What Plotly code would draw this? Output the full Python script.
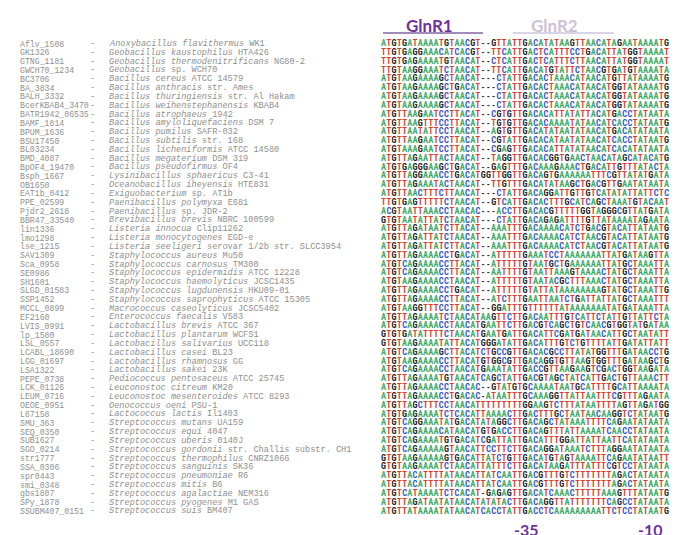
import plotly.graph_objects as go

# ---------------- data ----------------
genes = ["Aflv_1508", "GK1326", "GTNG_1181", "GWCH70_1234", "BC3706", "BA_3834", "BALH_3332",
         "BcerKBAB4_3470", "BATR1942_06535", "BAMF_1814", "BPUM_1636", "BSU17450", "BL03234",
         "BMD_4087", "BpOF4_19470", "Bsph_1667", "OB1650", "EAT1b_0412", "PPE_02599", "Pjdr2_2618",
         "BBR47_33540", "lin1336", "lmo1298", "lse_1215", "SAV1309", "Sca_0958", "SE0986", "SH1601",
         "SLGD_01583", "SSP1452", "MCCL_0899", "EF2160", "LVIS_0991", "lp_1580", "LSL_0557",
         "LCABL_18690", "LGG_01697", "LSA1322", "PEPE_0738", "LCK_01126", "LEUM_0716", "OEOE_0951",
         "L67158", "SMU_363", "SEQ_0350", "SUB1627", "SGO_0214", "str1777", "SSA_0306", "spr0443",
         "smi_0348", "gbs1807", "SPy_1878", "SSUBM407_0151"]

species = ["Anoxybacillus flavithermus", "Geobacillus kaustophilus", "Geobacillus thermodenitrificans",
           "Geobacillus", "Bacillus cereus", "Bacillus anthracis", "Bacillus thuringiensis",
           "Bacillus weihenstephanensis", "Bacillus atrophaeus", "Bacillus amyloliquefaciens",
           "Bacillus pumilus", "Bacillus subtilis", "Bacillus licheniformis", "Bacillus megaterium",
           "Bacillus pseudofirmus", "Lysinibacillus sphaericus", "Oceanobacillus iheyensis",
           "Exiguobacterium", "Paenibacillus polymyxa", "Paenibacillus", "Brevibacillus brevis",
           "Listeria innocua", "Listeria monocytogenes", "Listeria seeligeri", "Staphylococcus aureus",
           "Staphylococcus carnosus", "Staphylococcus epidermidis", "Staphylococcus haemolyticus",
           "Staphylococcus lugdunensis", "Staphylococcus saprophyticus", "Macrococcus caseolyticus",
           "Enterococcus faecalis", "Lactobacillus brevis", "Lactobacillus plantarum",
           "Lactobacillus salivarius", "Lactobacillus casei", "Lactobacillus rhamnosus",
           "Lactobacillus sakei", "Pediococcus pentosaceus", "Leuconostoc citreum",
           "Leuconostoc mesenteroides", "Oenococcus oeni", "Lactococcus lactis", "Streptococcus mutans",
           "Streptococcus equi", "Streptococcus uberis", "Streptococcus gordonii",
           "Streptococcus thermophilus", "Streptococcus sanguinis", "Streptococcus pneumoniae",
           "Streptococcus mitis", "Streptococcus agalactiae", "Streptococcus pyogenes",
           "Streptococcus suis"]

strains = ["WK1", "HTA426", "NG80-2", "sp. WCH70", "ATCC 14579", "str. Ames", "str. Al Hakam", "KBAB4",
           "1942", "DSM 7", "SAFR-032", "str. 168", "ATCC 14580", "DSM 319", "OF4", "C3-41", "HTE831",
           "sp. AT1b", "E681", "sp. JDR-2", "NBRC 100599", "Clip11262", "EGD-e",
           "serovar 1/2b str. SLCC3954", "Mu50", "TM300", "ATCC 12228", "JCSC1435", "HKU09-01",
           "ATCC 15305", "JCSC5402", "V583", "ATCC 367", "WCFS1", "UCC118", "BL23", "GG", "23K",
           "ATCC 25745", "KM20", "ATCC 8293", "PSU-1", "Il1403", "UA159", "4047", "0140J",
           "str. Challis substr. CH1", "CNRZ1066", "SK36", "R6", "B6", "NEM316", "M1 GAS", "BM407"]

sequences = [
    "ATGTGATAAAATGTAACGT--GTTATTGACATATAAGTTAACATAGAATAAAATG",
    "TTGTGAGGAAACATCACGT--TTCATTGACTCATTTCCTGACATTATGGTAAAAT",
    "TTGTGAGAAAATGTAACAT--CTCATTGACTCATTTCTTAACATTATGGTAAAAT",
    "TTGTAAGGAAATCTAACAT--TTCATTGACATGTATTCTAACGTGATGTAAAATA",
    "ATGTAAGAAAAGCTAACAT---CTATTGACACTAAACATAACATGTTATAAAATG",
    "ATGTAAGAAAAGCTGACAT---CTATTGACACTAAACATAACATGGTATAAAATG",
    "ATGTAAGAAAAGCTAACAT---CTATTGACACTAAACATAACATGGTATAAAATG",
    "ATGTAAGAAAAGCTAACAT---CTATTGACACTAAACATAACATGGTATAAAATG",
    "ATGTTAAGAATCCTTACAT--CGTGTTGACACATTATATTACATGACCTATAATA",
    "ATGTTAAGTTTCCTTACAT--TGTGTTGACACAAAATATAACATCACCTATAATG",
    "ATGTTAATATTCCTAACAT--AGTGTTGACATATAATATAACATGACATATAATA",
    "ATGTTAAGAATCCTTACAT--CGTATTGACACATAATATAACATCACCTATAATG",
    "ATGTAAAGAATCCTTACAT--CGAGTTGACACATTATATAACATCACATATAATA",
    "ATGTTAGAATTACTAACAT--TAGGTTGACACGGTGAACTAACATAGCATACATG",
    "ATGTGAGGGAAGCTGACAT--GAGTTTGACAAAGAAACTGACATTGTTTATACTA",
    "ATGTTAGGAAACCTGACATGGTTGGTTGACAGTGAAAAAATTTCGTTATATGATA",
    "ATGTTAGAAATACTAACAT--TTGTTTGACATATAAGCTGACGTTGAATATAATA",
    "ATGTTAACTTTCTTAACAT---CTATTGACAGGATTGTTGTCATATATTATTCTC",
    "TTGTGAGTTTTTCTAACAT--GTCATTGACACTTTGCATCAGCTAAATGTACAAT",
    "ACGTAATTAAACCTAACAC---ACCTTGACACGTTTTTGGTAGGGCGTTATGATA",
    "GTGTAATATTATCTAACAT---CTATTGACAGAGATTTTGTTATAAAATAGAATA",
    "ATGTTAGATAATCTTACAT--AAATTTGACAAAACATCTGACGTACATTATAATG",
    "ATGTTAGATTATCTAACAT--AAATTTGACAAAACATCTAACGTACATTATAATG",
    "ATGTTAGATTATCTTACAT--AAATTTGACAAAACATCTAACGTACATTATAATG",
    "ATGTTAGAAAACCTGACAT--ATTTTTGAAATCCTAAAAAAATTATGATAAGTTA",
    "ATGTCAGAAAACCTTACAT--ATTTTTGTAATGCTGAAAAAATTATGCTAAATTA",
    "ATGTCAGAAAACCTTACAT--AATTTTGTAATTAAAGTAAAACTATGCTAAATTA",
    "ATGTAAGAAAACCTAACAT--ATTTTTGTAATACGCTTTAAACTATGCTAAATTA",
    "ATGTTAGAAAACCTGACAT--ATTTTTGTATTATAAAAAAAAGTATGCTAAATTG",
    "ATGTTAGAAAACCTTACAT--ATCTTTGAATTAATCTGATTATTATGCTAAATTT",
    "ATGTAAGGTTTCCTTACAT--GGATTTGTTTTTTATAAAAAAATATGATAAATTA",
    "ATGTTAGAAAATCTAACATAAGTTCTTGACAATTTGTCATTCTATTGTTATTCTA",
    "ATGTCAGAAAACCTAACATGAATTCTTGACGTCAGCTGTCAACGTGGTATGATAA",
    "GTGTGATATTTTCTAACATGAATGATTGACATTCGATGATAACATTGCTAATATT",
    "GTGTAAGAAAATATTACATGGGATATTGACATTTGTCTGTTTTATTGATATTATT",
    "ATGTCAGAAAAGCTTACATCTGCCGTTGACACGCCTTATATGGTTTGATAACCTG",
    "ATGTAAGAAAACCTTACATGTGGCGTTGACAGGTGTTAAGTGGTTTGATAAGCTG",
    "ATGTCAGAAAACCTAACATGAAATATTGACCGTTAAGAAGTCGACTGGTAAGATA",
    "ATGTTAGAAAATGTAACATCAGCTATTGACGTAGCTATCATTGACTGTTAAACTT",
    "ATGTTAGAAAACCTAACAC--GTATGTGCAAAATAATGCATTTTGCATTAAAATA",
    "ATGTTAGAAAACCTGACAC-ATAATTTGCAAAGGTTATTAATTTCGTTTAGAATA",
    "ATGTTAGCTTTCCTAACATTTTTTTTTGGAAGTCTTTATAATTTTAGTTAGATGG",
    "ATGTGAGAAAATCTCACATTAAAACTTGACTTTGCTAATAACAAGGTCTATAATG",
    "ATGTCAGGAAATATGACATATAGGCTTGACAGCTATAAATTTTCAGAATATAATA",
    "ATGTCAGAAAACATAACATGTGACCTTGACAGTTTATTAAAATCAACCTATAATA",
    "ATGTCAGAAAATGTGACATCGATTATTGACATTTGGATTATTAATTCATATAATA",
    "ATGTCAGAAAAAGTAACATTCCTTCTTGACAGGATAAATCTTTAGGAATATAATA",
    "GTGTAAGAAAAAGTGACATTATCTGTTGACATGTAGTAAAATTCAGAATATAATT",
    "GTGTAAGAAAATCTAACATTATTTCTTGACATAAGATTTATTTCGTCCTATAATA",
    "ATGTTACATTTTATAACATTATCAATTGACGTTTGTCTTTTTTTAGACTATAATA",
    "ATGTTACATTTTATAACATTATCAATTGACGTTTGTCTTTTTTTAGACTATAATA",
    "ATGTCATAAAATCTCACAT-GAGAGTTGACATCAAACTTTTTAAAGTTTATAATG",
    "ATGTTAGATAATATAACATATATACTTGACAGGTTATTTTTTTCAGCCTATAATA",
    "ATGTTATAAAATATAACATCACCTATTGACCTCAAAAAAAAATTCTCCTATAATG",
]

motif_labels = ["GlnR1", "GlnR2"]
box_labels = ["-35", "-10"]

# ---------------- layout constants ----------------
W, H = 685, 535
X0, DX = 375.6, 5.24      # pixel centre of first column, column pitch
Y0, DY = 36.0, 8.82       # pixel centre of first row, row pitch

base_colors = {"A": "#3aab66", "T": "#dd3b30", "G": "#202020", "C": "#3454c8", "-": "#202020"}
name_color = "#909090"

fig = go.Figure()

for base in ["A", "T", "G", "C", "-"]:
    xs, ys, ts = [], [], []
    for r, s in enumerate(sequences):
        for c, ch in enumerate(s):
            if ch == base:
                xs.append(c)
                ys.append(r)
                ts.append(ch)
    fig.add_trace(go.Scatter(
        x=xs, y=ys, text=ts, mode="text", textposition="middle center",
        textfont=dict(family="Liberation Sans Narrow, Roboto Condensed, Liberation Sans, Arial",
                      size=8.5, color=base_colors[base], weight="bold"),
        hoverinfo="skip", showlegend=False))

annotations = []
mono = dict(family="Liberation Mono, Courier New, monospace", color=name_color)
for r in range(len(genes)):
    annotations.append(dict(x=10 / W, xref="paper", y=r, yref="y", xanchor="left", yanchor="middle",
                            text=genes[r], showarrow=False, font=dict(size=8.2, **mono)))
    annotations.append(dict(x=80 / W, xref="paper", y=r, yref="y", xanchor="left", yanchor="middle",
                            text="-", showarrow=False, font=dict(size=8.6, **mono)))
    annotations.append(dict(x=99 / W, xref="paper", y=r, yref="y", xanchor="left", yanchor="middle",
                            text=f"<i>{species[r]}</i> {strains[r]}", showarrow=False,
                            font=dict(size=8.6, **mono)))

# motif headers
head_font = "Lato, Open Sans, Liberation Sans, sans-serif"
annotations.append(dict(x=421.7 / W, y=1 - 17 / H, xref="paper", yref="paper", text=f"<b>{motif_labels[0]}</b>",
                        showarrow=False, font=dict(family=head_font, size=17, color="#7030A0"),
                        xanchor="center", yanchor="middle"))
annotations.append(dict(x=546.7 / W, y=1 - 17 / H, xref="paper", yref="paper", text=f"<b>{motif_labels[1]}</b>",
                        showarrow=False, font=dict(family=head_font, size=17, color="#CBC1DA"),
                        xanchor="center", yanchor="middle"))
annotations.append(dict(x=518 / W, y=1 - 521 / H, xref="paper", yref="paper", text=f"<b>{box_labels[0]}</b>",
                        showarrow=False, font=dict(family=head_font, size=16, color="#7030A0"),
                        xanchor="center", yanchor="middle"))
annotations.append(dict(x=642 / W, y=1 - 521 / H, xref="paper", yref="paper", text=f"<b>{box_labels[1]}</b>",
                        showarrow=False, font=dict(family=head_font, size=16, color="#7030A0"),
                        xanchor="center", yanchor="middle"))

shapes = [
    dict(type="line", xref="paper", yref="paper", x0=375 / W, x1=475 / W, y0=1 - 25 / H, y1=1 - 25 / H,
         line=dict(color="#8064A2", width=1.5)),
    dict(type="line", xref="paper", yref="paper", x0=505 / W, x1=606 / W, y0=1 - 25 / H, y1=1 - 25 / H,
         line=dict(color="#CFC6DC", width=1.5)),
]

xa = -X0 / DX
xb = xa + W / DX
ya = -Y0 / DY
yb = ya + H / DY

fig.update_layout(
    width=W, height=H, margin=dict(l=0, r=0, t=0, b=0),
    paper_bgcolor="white", plot_bgcolor="white",
    xaxis=dict(range=[xa, xb], visible=False, fixedrange=True),
    yaxis=dict(range=[yb, ya], visible=False, fixedrange=True),
    annotations=annotations, shapes=shapes, showlegend=False,
)

fig.write_html("out.html")
